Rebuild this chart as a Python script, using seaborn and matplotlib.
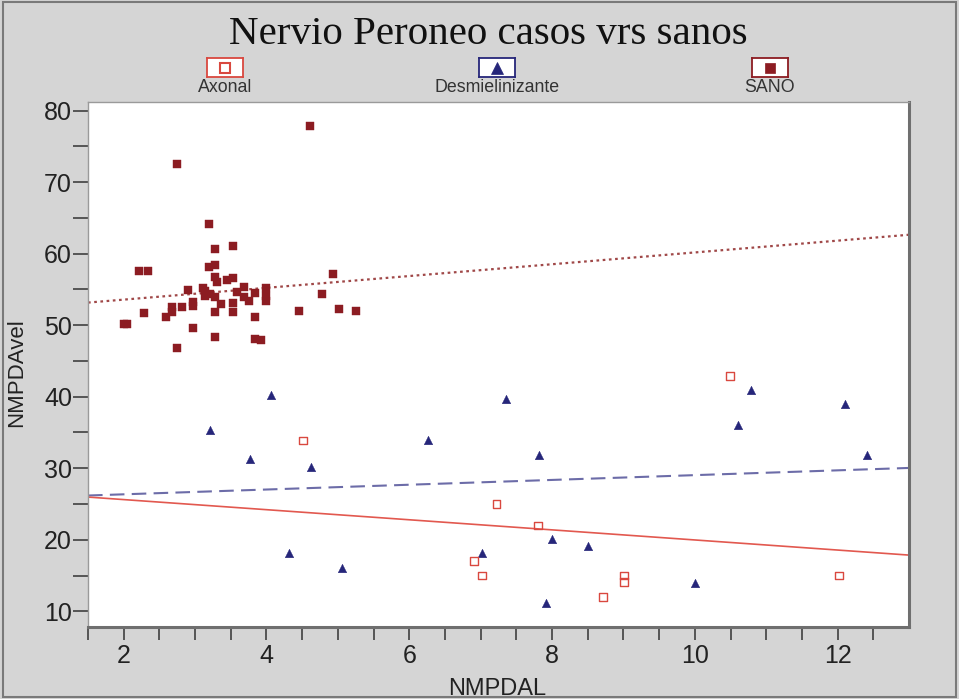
import numpy as np
import pandas as pd
import matplotlib
matplotlib.use("Agg")
import matplotlib.pyplot as plt
from matplotlib.patches import Rectangle
from matplotlib.ticker import MultipleLocator, FixedLocator
import seaborn as sns

# ---- data ----
sano_x = [4.61, 2.74, 3.20, 3.28, 3.53, 2.21, 2.34, 3.20, 3.28, 3.28, 3.31, 3.45, 3.53,
          4.93, 2.90, 3.11, 3.14, 3.14, 3.21, 3.28, 3.36, 3.59, 3.69, 3.69, 3.76, 3.84,
          3.99, 3.99, 3.99, 4.78, 2.97, 2.97, 2.82, 2.67, 2.67, 2.59, 2.28, 2.00, 2.04,
          3.28, 3.53, 3.53, 3.84, 4.45, 5.01, 5.25, 2.97, 3.28, 3.84, 3.92, 2.74]
sano_y = [77.8, 72.5, 64.1, 60.6, 61.1, 57.6, 57.6, 58.1, 58.4, 56.8, 56.1, 56.3, 56.6,
          57.2, 54.9, 55.2, 54.8, 54.1, 54.3, 53.9, 52.9, 54.7, 55.4, 54.0, 53.4, 54.5,
          55.2, 54.1, 53.4, 54.3, 53.3, 52.7, 52.5, 52.5, 51.8, 51.1, 51.7, 50.1, 50.2,
          51.8, 53.1, 51.8, 51.2, 52.0, 52.2, 52.0, 49.6, 48.3, 48.1, 47.9, 46.8]

desm_x = [4.07, 3.21, 3.77, 4.62, 6.26, 7.36, 7.82, 8.00, 7.02, 4.31, 5.06, 7.91,
          8.51, 10.00, 10.79, 10.61, 12.10, 12.41]
desm_y = [40.3, 35.4, 31.3, 30.1, 34.0, 39.7, 31.9, 20.1, 18.1, 18.1, 16.0, 11.1,
          19.1, 14.0, 40.9, 36.1, 39.0, 31.9]

axon_x = [4.51, 7.22, 7.80, 6.91, 7.02, 10.49, 9.01, 9.01, 8.71, 12.02]
axon_y = [33.9, 25.0, 22.0, 17.0, 15.0, 42.9, 15.0, 14.1, 12.0, 15.0]

categories = ["Axonal", "Desmielinizante", "SANO"]
title = "Nervio Peroneo casos vrs sanos"
x_label = "NMPDAL"
y_label = "NMPDAvel"
x_ticks = [2, 4, 6, 8, 10, 12]
y_ticks = [10, 20, 30, 40, 50, 60, 70, 80]

# ---- styling ----
sns.set_theme(style="white")
plt.rcParams["font.family"] = ["Liberation Sans", "DejaVu Sans"]

bg = "#d5d5d5"
c_axon = "#d9483f"
c_desm = "#26267a"
c_sano = "#8c1c22"
c_axon_line = "#e2584f"
c_desm_line = "#6c6ca8"
c_sano_line = "#a04848"

W, H = 959, 699
fig = plt.figure(figsize=(W / 100, H / 100), dpi=100, facecolor=bg)
ax_l, ax_r, ax_t, ax_b = 88, 909, 102, 627
ax = fig.add_axes([ax_l / W, (H - ax_b) / H, (ax_r - ax_l) / W, (ax_b - ax_t) / H])
ax.set_facecolor("white")
xlim = (1.5, 13.0)
ylim = (7.8, 81.2)
ax.set_xlim(*xlim)
ax.set_ylim(*ylim)

df_axon = pd.DataFrame({"x": axon_x, "y": axon_y})
df_desm = pd.DataFrame({"x": desm_x, "y": desm_y})
df_sano = pd.DataFrame({"x": sano_x, "y": sano_y})

# regression lines across full x range
sns.regplot(data=df_sano, x="x", y="y", ax=ax, scatter=False, ci=None, truncate=False,
            line_kws=dict(color=c_sano_line, lw=1.6, linestyle=(0, (1.2, 1.6))))
sns.regplot(data=df_desm, x="x", y="y", ax=ax, scatter=False, ci=None, truncate=False,
            line_kws=dict(color=c_desm_line, lw=1.5, linestyle=(0, (7, 3.5))))
sns.regplot(data=df_axon, x="x", y="y", ax=ax, scatter=False, ci=None, truncate=False,
            line_kws=dict(color=c_axon_line, lw=1.2, linestyle="-"))

sns.scatterplot(data=df_sano, x="x", y="y", ax=ax, marker="s", s=34, color=c_sano,
                edgecolor=c_sano, linewidth=0.3, zorder=3)
sns.scatterplot(data=df_desm, x="x", y="y", ax=ax, marker="^", s=38, color=c_desm,
                edgecolor=c_desm, linewidth=0.3, zorder=3)
sns.scatterplot(data=df_axon, x="x", y="y", ax=ax, marker="s", s=30, facecolor="none",
                edgecolor=c_axon, linewidth=1.0, zorder=3)

ax.set_xlim(*xlim)
ax.set_ylim(*ylim)

# ticks
ax.set_xticks(x_ticks)
ax.set_yticks(y_ticks)
ax.xaxis.set_minor_locator(FixedLocator(list(np.arange(1.5, 12.51, 0.5))))
ax.yaxis.set_minor_locator(MultipleLocator(5))
ax.tick_params(axis="both", which="both", direction="out", width=1.1,
               color="#333333", labelsize=18, labelcolor="#222222")
ax.tick_params(axis="x", which="both", bottom=True, top=False, length=9.5, pad=3)
ax.tick_params(axis="y", which="both", left=True, right=False, length=10.5, pad=1)

ax.set_xlabel(x_label, fontsize=17, color="#222222", va="baseline")
ax.set_ylabel(y_label, fontsize=16, color="#222222")
ax.xaxis.set_label_coords((497 - ax_l) / (ax_r - ax_l), -(695 - ax_b) / (ax_b - ax_t))
ax.yaxis.set_label_coords(-(ax_l - 27) / (ax_r - ax_l), (ax_b - 373) / (ax_b - ax_t))

for side in ["top", "left"]:
    ax.spines[side].set_color("#9a9a9a")
    ax.spines[side].set_linewidth(1.0)
for side in ["right", "bottom"]:
    ax.spines[side].set_color("#6f6f6f")
    ax.spines[side].set_linewidth(2.2)

# title
fig.text(488 / W, 1 - 35 / H, title, ha="center", va="center", fontsize=29.5,
         family=["Liberation Serif", "DejaVu Serif"], color="#111111")

# legend (boxes with markers, labels below)
leg_specs = [
    (categories[0], 225, dict(marker="s", ms=7, mfc="white", mec=c_axon, mew=1.5), c_axon),
    (categories[1], 497, dict(marker="^", ms=8, mfc=c_desm, mec=c_desm, mew=0.5), c_desm),
    (categories[2], 770, dict(marker="s", ms=7, mfc=c_sano, mec=c_sano, mew=0.5), c_sano),
]
bw, bh = 36, 19
for name, cx, mk, ec in leg_specs:
    lax = fig.add_axes([(cx - bw / 2) / W, 1 - (67.5 + bh / 2) / H, bw / W, bh / H])
    lax.set_facecolor("white")
    lax.set_xlim(-1, 1)
    lax.set_ylim(-1, 1)
    lax.plot([0], [0], linestyle="none", **mk)
    lax.set_xticks([])
    lax.set_yticks([])
    for s in lax.spines.values():
        s.set_color(ec)
        s.set_linewidth(1.3)
    fig.text(cx / W, 1 - 88 / H, name, ha="center", va="center", fontsize=12.8,
             family=["Liberation Sans", "DejaVu Sans"], color="#333333")

# outer frame
fig.patches.append(Rectangle((0.003, 0.003), 0.994, 0.994, transform=fig.transFigure,
                             fill=False, edgecolor="#7a7a7a", linewidth=1.5))

fig.savefig("out.png", dpi=100, facecolor=bg)
